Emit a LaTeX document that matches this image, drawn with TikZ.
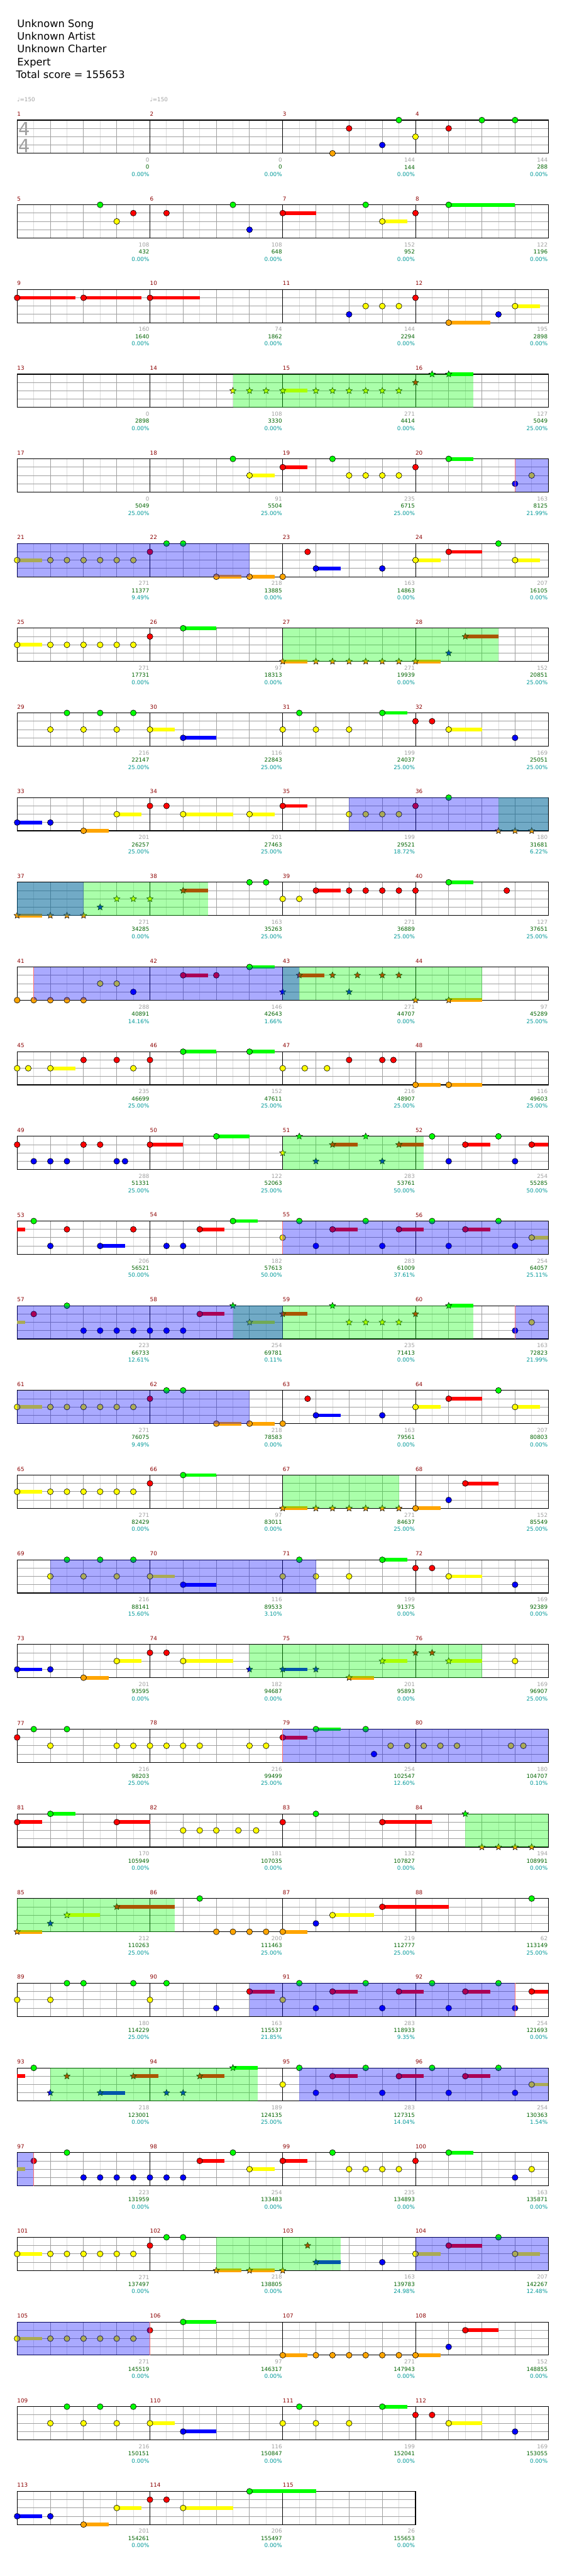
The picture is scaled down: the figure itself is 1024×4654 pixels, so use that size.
\documentclass[tikz,border=0pt]{standalone}
\usepackage{fontspec}
\setmainfont{DejaVu Sans}
\usepackage{xcolor}
\usepackage{tikz}
\usetikzlibrary{shapes.geometric}
\definecolor{fretG}{RGB}{0,255,0}
\definecolor{fretR}{RGB}{255,0,0}
\definecolor{fretY}{RGB}{255,255,0}
\definecolor{fretB}{RGB}{0,0,255}
\definecolor{fretO}{RGB}{255,165,0}
\definecolor{barred}{RGB}{140,0,0}
\definecolor{scoregrey}{RGB}{160,160,160}
\definecolor{totalgreen}{RGB}{0,100,0}
\definecolor{pctteal}{RGB}{0,153,153}
\definecolor{gridgrey}{RGB}{160,160,160}
\definecolor{gridlight}{RGB}{220,220,220}
\definecolor{markred}{RGB}{255,110,110}
\def\laneG{0}\def\laneR{1}\def\laneY{2}\def\laneB{3}\def\laneO{4}
\tikzset{
  gem/.style={circle,draw=black,line width=0.7pt,inner sep=0pt,minimum size=10.6pt},
  stargem/.style={star,star points=5,star point ratio=2.2,draw=black,line width=0.6pt,
    inner sep=0pt,minimum size=12pt},
  spzone/.style={fill=fretG,fill opacity=0.333},
  odzone/.style={fill=fretB,fill opacity=0.333},
  odmark/.style={draw=markred,line width=0.8pt},
  eighthline/.style={draw=gridlight,line width=1pt},
  beatline/.style={draw=gridgrey,line width=1pt},
  barline/.style={draw=black,line width=1pt},
  lanegrid/.style={draw=gridgrey,line width=1pt},
  staffframe/.style={draw=black,line width=1.3pt},
  songline/.style={font=\fontsize{18.5}{22}\selectfont,inner sep=0pt},
  tempo/.style={font=\fontsize{10}{12}\selectfont,text=scoregrey,inner sep=0pt},
  timesig/.style={font=\fontsize{33}{36}\selectfont,text=scoregrey,inner sep=0pt},
  mnum/.style={font=\fontsize{10}{12}\selectfont,text=barred,inner sep=0pt,anchor=west},
  rowscore/.style={font=\fontsize{10}{12}\selectfont,text=scoregrey,inner sep=0pt,anchor=east},
  runtotal/.style={font=\fontsize{10}{12}\selectfont,text=totalgreen,inner sep=0pt,anchor=east},
  spgain/.style={font=\fontsize{10}{12}\selectfont,text=pctteal,inner sep=0pt,anchor=east}
}
% one row of the chart: #1 row index, #2 number of measures
\newcommand\staff[2]{%
  \pgfmathsetmacro\sy{217+153*#1}%
  \pgfmathtruncatemacro\nodd{8*#2-1}%
  \pgfmathtruncatemacro\neven{8*#2-2}%
  \foreach \k in {1,3,...,\nodd}{\draw[eighthline] ({31+30*\k},\sy) -- ++(0,60);}
  \foreach \j in {15,30,45}{\draw[lanegrid] (31,\sy+\j) -- ++(240*#2,0);}
  \foreach \k in {2,4,...,\neven}{%
    \pgfmathtruncatemacro\kb{mod(\k,8)}%
    \ifnum\kb=0 \draw[barline] ({31+30*\k},\sy) -- ++(0,60);
    \else \draw[beatline] ({31+30*\k},\sy) -- ++(0,60);\fi}
  \draw[staffframe] (31,\sy) rectangle ++(240*#2,60);
}
% notes: position (eighths) / fret / sustain end (0 = none)
\newcommand\gems[2]{%
  \foreach \gpos/\gfret/\gend [count=\i] in {#2}{%
    \pgfmathsetmacro\gx{31+30*\gpos}%
    \pgfmathsetmacro\gy{217+153*#1+15*\csname lane\gfret\endcsname}%
    \pgfmathtruncatemacro\hastail{\gend>\gpos}%
    \ifnum\hastail=1 \fill[fret\gfret] (\gx,\gy-3.3) rectangle ({31+30*\gend},\gy+3.3);\fi
    \node[gem,fill=fret\gfret] (g#1-\i) at (\gx,\gy) {};}}
\newcommand\stars[2]{%
  \foreach \gpos/\gfret/\gend [count=\i] in {#2}{%
    \pgfmathsetmacro\gx{31+30*\gpos}%
    \pgfmathsetmacro\gy{217+153*#1+15*\csname lane\gfret\endcsname}%
    \pgfmathtruncatemacro\hastail{\gend>\gpos}%
    \ifnum\hastail=1 \fill[fret\gfret] (\gx,\gy-3.3) rectangle ({31+30*\gend},\gy+3.3);\fi
    \node[stargem,fill=fret\gfret] (s#1-\i) at (\gx,\gy) {};}}
\newcommand\tails[2]{%
  \foreach \gpos/\gfret/\gend in {#2}{%
    \pgfmathsetmacro\gy{217+153*#1+15*\csname lane\gfret\endcsname}%
    \fill[fret\gfret] ({31+30*\gpos},\gy-3.3) rectangle ({31+30*\gend},\gy+3.3);}}
\newcommand\spz[3]{\fill[spzone] ({31+30*#2},{217+153*#1}) rectangle ({31+30*#3},{277+153*#1});}
\newcommand\odz[3]{\fill[odzone] ({31+30*#2},{217+153*#1}) rectangle ({31+30*#3},{277+153*#1});}
\newcommand\odm[2]{\draw[odmark] ({31+30*#2},{217+153*#1}) -- ++(0,60);}

\begin{document}
\begin{tikzpicture}[x=1pt,y=-1pt]
  \fill[white] (0,0) rectangle (1024,4654);
  \useasboundingbox (0,0) rectangle (1024,4654);

  \node[songline,anchor=base west] (song) at (31,49.3) {Unknown Song};
  \node[songline,anchor=base west] (artist) at (31,72.3) {Unknown Artist};
  \node[songline,anchor=base west] (charter) at (31,95.3) {Unknown Charter};
  \node[songline,anchor=base west] (level) at (31,118.3) {Expert};
  \node[songline,anchor=base west] (total) at (29,141.3) {Total score = 155653};
  \node[tempo,anchor=west] (bpma) at (31,180) {♩=150};
  \node[tempo,anchor=west] (bpmb) at (271,180) {♩=150};

  \foreach \r in {0,...,27}{\staff{\r}{4}}
  \staff{28}{3}
  \node[timesig] (tsup) at (44,233) {4};
  \node[timesig] (tsdown) at (44,263) {4};

  \foreach \m/\sc/\tot/\pc in {1/0/0/0.00,2/0/0/0.00,3/144/144/0.00,4/144/288/0.00,
    5/108/432/0.00,6/108/648/0.00,7/152/952/0.00,8/122/1196/0.00,
    9/160/1640/0.00,10/74/1862/0.00,11/144/2294/0.00,12/195/2898/0.00,
    13/0/2898/0.00,14/108/3330/0.00,15/271/4414/0.00,16/127/5049/25.00,
    17/0/5049/25.00,18/91/5504/25.00,19/235/6715/25.00,20/163/8125/21.99,
    21/271/11377/9.49,22/218/13885/0.00,23/163/14863/0.00,24/207/16105/0.00,
    25/271/17731/0.00,26/97/18313/0.00,27/271/19939/0.00,28/152/20851/25.00,
    29/216/22147/25.00,30/116/22843/25.00,31/199/24037/25.00,32/169/25051/25.00,
    33/201/26257/25.00,34/201/27463/25.00,35/199/29521/18.72,36/180/31681/6.22,
    37/271/34285/0.00,38/163/35263/25.00,39/271/36889/25.00,40/127/37651/25.00,
    41/288/40891/14.16,42/146/42643/1.66,43/271/44707/0.00,44/97/45289/25.00,
    45/235/46699/25.00,46/152/47611/25.00,47/216/48907/25.00,48/116/49603/25.00,
    49/288/51331/25.00,50/122/52063/25.00,51/283/53761/50.00,52/254/55285/50.00,
    53/206/56521/50.00,54/182/57613/50.00,55/283/61009/37.61,56/254/64057/25.11,
    57/223/66733/12.61,58/254/69781/0.11,59/235/71413/0.00,60/163/72823/21.99,
    61/271/76075/9.49,62/218/78583/0.00,63/163/79561/0.00,64/207/80803/0.00,
    65/271/82429/0.00,66/97/83011/0.00,67/271/84637/25.00,68/152/85549/25.00,
    69/216/88141/15.60,70/116/89533/3.10,71/199/91375/0.00,72/169/92389/0.00,
    73/201/93595/0.00,74/182/94687/0.00,75/201/95893/0.00,76/169/96907/25.00,
    77/216/98203/25.00,78/216/99499/25.00,79/254/102547/12.60,80/180/104707/0.10,
    81/170/105949/0.00,82/181/107035/0.00,83/132/107827/0.00,84/194/108991/0.00,
    85/212/110263/25.00,86/200/111463/25.00,87/219/112777/25.00,88/62/113149/25.00,
    89/180/114229/25.00,90/163/115537/21.85,91/283/118933/9.35,92/254/121693/0.00,
    93/218/123001/0.00,94/189/124135/25.00,95/283/127315/14.04,96/254/130363/1.54,
    97/223/131959/0.00,98/254/133483/0.00,99/235/134893/0.00,100/163/135871/0.00,
    101/271/137497/0.00,102/218/138805/0.00,103/163/139783/24.98,104/207/142267/12.48,
    105/271/145519/0.00,106/97/146317/0.00,107/271/147943/0.00,108/152/148855/0.00,
    109/216/150151/0.00,110/116/150847/0.00,111/199/152041/0.00,112/169/153055/0.00,
    113/201/154261/0.00,114/206/155497/0.00,115/26/155653/0.00}{
    \pgfmathtruncatemacro\rw{(\m-1)/4}
    \pgfmathtruncatemacro\cl{mod(\m-1,4)}
    \pgfmathsetmacro\ty{217+153*\rw}
    \node[mnum] (mn\m) at ({31+240*\cl},\ty-11) {\m};
    \node[rowscore] (sc\m) at ({30+240*(\cl+1)},\ty+72) {\sc};
    \node[runtotal] (tot\m) at ({30+240*(\cl+1)},\ty+85) {\tot};
    \node[spgain] (pc\m) at ({30+240*(\cl+1)},\ty+98) {\pc\%};
  }

  \gems{0}{19/O/0,20/R/0,22/B/0,23/G/0,24/Y/0,26/R/0,28/G/0,30/G/0}
  \gems{1}{5/G/0,6/Y/0,7/R/0,9/R/0,13/G/0,14/B/0,16/R/18,21/G/0,22/Y/23.5,24/R/0,26/G/30}
  \gems{2}{0/R/3.5,4/R/7.5,8/R/11,20/B/0,21/Y/0,22/Y/0,23/Y/0,24/R/0,26/O/28.5,29/B/0,30/Y/31.5}
  \stars{3}{13/Y/0,14/Y/0,15/Y/0,16/Y/17.5,18/Y/0,19/Y/0,20/Y/0,21/Y/0,22/Y/0,23/Y/0,24/R/0,25/G/0,26/G/27.5}
  \gems{4}{13/G/0,14/Y/15.5,16/R/17.5,19/G/0,20/Y/0,21/Y/0,22/Y/0,23/Y/0,24/R/0,26/G/27.5,30/B/0,31/Y/0}
  \gems{5}{0/Y/1.5,2/Y/0,3/Y/0,4/Y/0,5/Y/0,6/Y/0,7/Y/0,8/R/0,9/G/0,10/G/0,12/O/13.5,14/O/15.5,16/O/0,17.5/R/0,18/B/19.5,22/B/0,24/Y/25.5,26/R/28,29/G/0,30/Y/31.5}
  \gems{6}{0/Y/1.5,2/Y/0,3/Y/0,4/Y/0,5/Y/0,6/Y/0,7/Y/0,8/R/0,10/G/12}
  \stars{6}{16/O/17.5,18/O/0,19/O/0,20/O/0,21/O/0,22/O/0,23/O/0,24/O/25.5,26/B/0,27/R/29}
  \gems{7}{2/Y/0,3/G/0,4/Y/0,5/G/0,6/Y/0,7/G/0,8/Y/9.5,10/B/12,16/Y/0,17/G/0,18/Y/0,20/Y/0,22/G/23.5,24/R/0,25/R/0,26/Y/28,30/B/0}
  \gems{8}{0/B/1.5,2/B/0,4/O/5.5,6/Y/7.5,8/R/0,9/R/0,10/Y/13,14/Y/15.5,16/R/17.5,20/Y/0,21/Y/0,22/Y/0,23/Y/0,24/R/0,26/G/0}
  \stars{8}{29/O/0,30/O/0,31/O/0}
  \stars{9}{0/O/1.5,2/O/0,3/O/0,4/O/0,5/B/0,6/Y/0,7/Y/0,8/Y/0,10/R/11.5}
  \gems{9}{14/G/0,15/G/0,16/Y/0,17/Y/0,18/R/19.5,20/R/0,21/R/0,22/R/0,23/R/0,24/R/0,26/G/27.5,29.5/R/0}
  \gems{10}{0/O/0,1/O/0,2/O/0,3/O/0,4/O/0,5/Y/0,6/Y/0,7/B/0,10/R/11.5,12/R/0,14/G/15.5}
  \stars{10}{16/B/0,17/R/18.5,19/R/0,20/B/0,20.5/R/0,22/R/0,23/R/0,24/O/0,26/O/28}
  \gems{11}{0/Y/0,0.67/Y/0,2/Y/3.5,4/R/0,6/R/0,7/Y/0,8/R/0,10/G/12,14/G/15.5,16/Y/0,17.33/Y/0,18.67/Y/0,20/R/0,22/R/0,22.67/R/0,24/O/25.5,26/O/28}
  \gems{12}{0/R/0,1/B/0,2/B/0,3/B/0,4/R/0,5/R/0,6/B/0,6.5/B/0,8/R/10,12/G/14,25/G/0,26/B/0,27/R/28.5,29/G/0,30/B/0,31/R/32}
  \stars{12}{16/Y/0,17/G/0,18/B/0,19/R/20.5,21/G/0,22/B/0,23/R/24.5}
  \tails{13}{0/R/0.5}
  \gems{13}{1/G/0,2/B/0,3/R/0,5/B/6.5,7/R/0,9/B/0,10/B/0,11/R/12.5,13/G/14.5,16/Y/0,17/G/0,18/B/0,19/R/20.5,21/G/0,22/B/0,23/R/24.5,25/G/0,26/B/0,27/R/28.5,29/G/0,30/B/0,31/Y/32}
  \tails{14}{0/Y/0.5}
  \gems{14}{1/R/0,3/G/0,4/B/0,5/B/0,6/B/0,7/B/0,8/B/0,9/B/0,10/B/0,11/R/12.5,30/B/0,31/Y/0}
  \stars{14}{13/G/0,14/Y/15.5,16/R/17.5,19/G/0,20/Y/0,21/Y/0,22/Y/0,23/Y/0,24/R/0,26/G/27.5}
  \gems{15}{0/Y/1.5,2/Y/0,3/Y/0,4/Y/0,5/Y/0,6/Y/0,7/Y/0,8/R/0,9/G/0,10/G/0,12/O/13.5,14/O/15.5,16/O/0,17.5/R/0,18/B/19.5,22/B/0,24/Y/25.5,26/R/28,29/G/0,30/Y/31.5}
  \gems{16}{0/Y/1.5,2/Y/0,3/Y/0,4/Y/0,5/Y/0,6/Y/0,7/Y/0,8/R/0,10/G/12,24/O/25.5,26/B/0,27/R/29}
  \stars{16}{16/O/17.5,18/O/0,19/O/0,20/O/0,21/O/0,22/O/0,23/O/0}
  \gems{17}{2/Y/0,3/G/0,4/Y/0,5/G/0,6/Y/0,7/G/0,8/Y/9.5,10/B/12,16/Y/0,17/G/0,18/Y/0,20/Y/0,22/G/23.5,24/R/0,25/R/0,26/Y/28,30/B/0}
  \gems{18}{0/B/1.5,2/B/0,4/O/5.5,6/Y/7.5,8/R/0,9/R/0,10/Y/13,30/Y/0}
  \stars{18}{14/B/0,16/B/17.5,18/B/0,20/O/21.5,22/Y/23.5,24/R/0,25/R/0,26/Y/28}
  \gems{19}{0/R/0,1/G/0,2/Y/0,3/G/0,6/Y/0,7/Y/0,8/Y/0,9/Y/0,10/Y/0,11/Y/0,14/Y/0,15/Y/0,16/R/17.5,18/G/19.5,21/G/0,21.5/B/0,22.5/Y/0,23.5/Y/0,24.5/Y/0,25.5/Y/0,26.5/Y/0,29.75/Y/0,30.5/Y/0}
  \gems{20}{0/R/1.5,2/G/3.5,6/R/8,10/Y/0,11/Y/0,12/Y/0,13.33/Y/0,14.4/Y/0,16/R/0,18/G/0,22/R/25}
  \stars{20}{27/G/0,28/O/0,29/O/0,30/O/0,31/O/0}
  \stars{21}{0/O/1.5,2/B/0,3/Y/5,6/R/9.5}
  \gems{21}{11/G/0,12/O/0,13/O/0,14/O/0,15/O/0,16/O/17.5,18/B/0,19/Y/21.5,22/R/26,31/G/0}
  \gems{22}{0/Y/0,2/Y/0,3/G/0,4/G/0,7/G/0,8/Y/0,9/G/0,12/B/0,14/R/15.5,16/Y/0,17/G/0,18/B/0,19/R/20.5,21/G/0,22/B/0,23/R/24.5,25/G/0,26/B/0,27/R/28.5,29/G/0,30/B/0,31/R/32}
  \tails{23}{0/R/0.5}
  \gems{23}{1/G/0,16/Y/0,17/G/0,18/B/0,19/R/20.5,21/G/0,22/B/0,23/R/24.5,25/G/0,26/B/0,27/R/28.5,29/G/0,30/B/0,31/Y/32}
  \stars{23}{2/B/0,3/R/0,5/B/6.5,7/R/8.5,9/B/0,10/B/0,11/R/12.5,13/G/14.5}
  \tails{24}{0/Y/0.5}
  \gems{24}{1/R/0,3/G/0,4/B/0,5/B/0,6/B/0,7/B/0,8/B/0,9/B/0,10/B/0,11/R/12.5,13/G/0,14/Y/15.5,16/R/17.5,19/G/0,20/Y/0,21/Y/0,22/Y/0,23/Y/0,24/R/0,26/G/27.5,30/B/0,31/Y/0}
  \gems{25}{0/Y/1.5,2/Y/0,3/Y/0,4/Y/0,5/Y/0,6/Y/0,7/Y/0,8/R/0,9/G/0,10/G/0,22/B/0,24/Y/25.5,26/R/28,29/G/0,30/Y/31.5}
  \stars{25}{12/O/13.5,14/O/15.5,16/O/0,17.5/R/0,18/B/19.5}
  \gems{26}{0/Y/1.5,2/Y/0,3/Y/0,4/Y/0,5/Y/0,6/Y/0,7/Y/0,8/R/0,10/G/12,16/O/17.5,18/O/0,19/O/0,20/O/0,21/O/0,22/O/0,23/O/0,24/O/25.5,26/B/0,27/R/29}
  \gems{27}{2/Y/0,3/G/0,4/Y/0,5/G/0,6/Y/0,7/G/0,8/Y/9.5,10/B/12,16/Y/0,17/G/0,18/Y/0,20/Y/0,22/G/23.5,24/R/0,25/R/0,26/Y/28,30/B/0}
  \gems{28}{0/B/1.5,2/B/0,4/O/5.5,6/Y/7.5,8/R/0,9/R/0,10/Y/13,14/G/18}

  % star power phrases, then activation zones
  \spz{3}{13}{27.5}\spz{6}{16}{29}\spz{8}{29}{32}\spz{9}{0}{11.5}
  \spz{10}{16}{28}\spz{12}{16}{24.5}\spz{14}{13}{27.5}\spz{16}{16}{23}
  \spz{18}{14}{28}\spz{20}{27}{32}\spz{21}{0}{9.5}\spz{23}{2}{14.5}\spz{25}{12}{19.5}
  \odz{4}{30}{32}\odz{5}{0}{14}\odz{8}{20}{32}\odz{9}{0}{4}\odz{10}{1}{17}
  \odz{13}{16}{32}\odz{14}{0}{16}\odz{14}{30}{32}\odz{15}{0}{14}\odz{17}{2}{18}
  \odz{19}{16}{32}\odz{22}{14}{30}\odz{23}{17}{32}\odz{24}{0}{1}\odz{25}{24}{32}\odz{26}{0}{8}
  \odm{4}{30}\odm{10}{1}\odm{13}{16}\odm{14}{30}\odm{19}{16}\odm{22}{30}\odm{24}{1}\odm{26}{8}
\end{tikzpicture}
\end{document}
